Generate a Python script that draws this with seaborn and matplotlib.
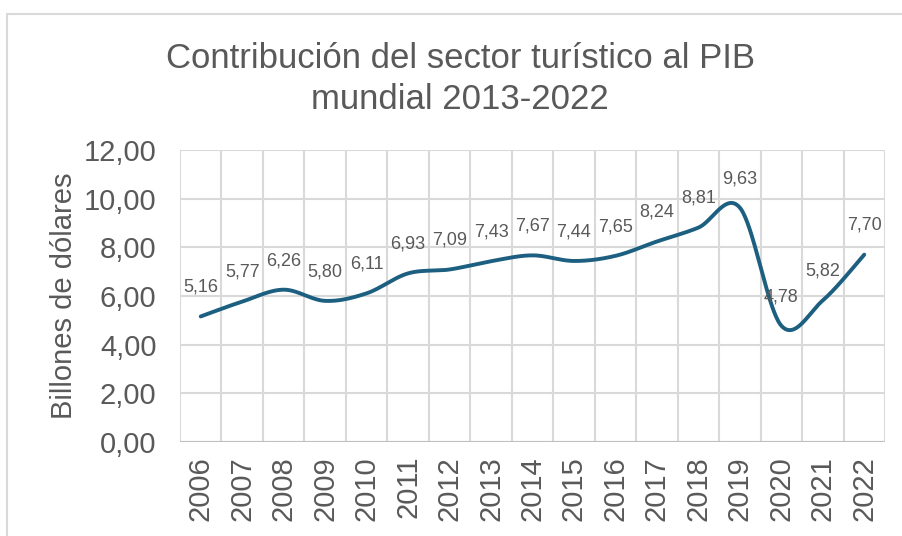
import numpy as np
import pandas as pd
import matplotlib
matplotlib.use("Agg")
import matplotlib.pyplot as plt
from matplotlib.lines import Line2D
import seaborn as sns

years = ["2006", "2007", "2008", "2009", "2010", "2011", "2012", "2013", "2014",
         "2015", "2016", "2017", "2018", "2019", "2020", "2021", "2022"]
values = [5.16, 5.77, 6.26, 5.80, 6.11, 6.93, 7.09, 7.43, 7.67,
          7.44, 7.65, 8.24, 8.81, 9.63, 4.78, 5.82, 7.70]
y_ticks = [0, 2, 4, 6, 8, 10, 12]
title = "Contribución del sector turístico al PIB\nmundial 2013-2022"
ylabel = "Billones de dólares"

LINE = "#1D5F80"
TEXT = "#595959"
GRID = "#D9D9D9"


def fmt(v):
    return f"{v:.2f}".replace(".", ",")


def smooth(xs, ys, n=40):
    # Excel-like smoothed line (Catmull-Rom style Bezier)
    P = np.column_stack([xs, ys]).astype(float)
    out = []
    m = len(P)
    for i in range(m - 1):
        p0 = P[i - 1] if i > 0 else P[i]
        p1 = P[i]
        p2 = P[i + 1]
        p3 = P[i + 2] if i + 2 < m else P[i + 1]
        c1 = p1 + (p2 - p0) / 6.0
        c2 = p2 - (p3 - p1) / 6.0
        t = np.linspace(0, 1, n)[:, None]
        seg = ((1 - t) ** 3) * p1 + 3 * ((1 - t) ** 2) * t * c1 + 3 * (1 - t) * t ** 2 * c2 + t ** 3 * p2
        out.append(seg if i == 0 else seg[1:])
    s = np.vstack(out)
    return s[:, 0], s[:, 1]


sns.set_theme(style="white")
plt.rcParams["font.family"] = ["Liberation Sans", "DejaVu Sans"]

fig = plt.figure(figsize=(9.02, 5.36), dpi=100)
ax = fig.add_axes([180 / 902, 1 - 442 / 536, 705 / 902, 292 / 536])

xpos = np.arange(len(years))
sx, sy = smooth(xpos, values)
curve = pd.DataFrame({"x": sx, "y": sy})
sns.lineplot(data=curve, x="x", y="y", ax=ax, color=LINE, linewidth=2.8,
             sort=False, estimator=None)

for xi, v in zip(xpos, values):
    ax.annotate(fmt(v), (xi, v), xytext=(0, 21), textcoords="offset points",
                ha="center", va="center", fontsize=13, color=TEXT)

ax.set_xlim(-0.5, len(years) - 0.5)
ax.set_ylim(0, 12)
ax.set_yticks(y_ticks)
ax.set_yticklabels([fmt(v) for v in y_ticks], fontsize=21, color=TEXT)
ax.set_xticks(xpos)
ax.set_xticklabels(years, rotation=90, fontsize=21, color=TEXT)
ax.tick_params(axis="y", length=0, pad=17)
ax.tick_params(axis="x", length=0, pad=10)
ax.set_xlabel("")
ax.set_ylabel(ylabel, fontsize=21, color=TEXT, labelpad=4)

ax.set_xticks(np.arange(-0.5, len(years)), minor=True)
ax.grid(False)
ax.grid(True, which="minor", axis="x", color=GRID, linewidth=1.5)
ax.grid(True, which="major", axis="y", color=GRID, linewidth=1.5)
ax.tick_params(which="minor", length=0)
for side in ["top", "right", "bottom", "left"]:
    ax.spines[side].set_visible(False)
ax.axhline(0, color="#BFBFBF", linewidth=1.5, zorder=1)

fig.text(460 / 902, 1 - 79 / 536, title, ha="center", va="center", fontsize=25,
         color=TEXT, linespacing=1.3)

fig.add_artist(Line2D([7 / 902, 7 / 902], [0, 1 - 14 / 536], color=GRID, linewidth=1.5))
fig.add_artist(Line2D([7 / 902, 1], [1 - 14 / 536, 1 - 14 / 536], color=GRID, linewidth=1.5))

fig.savefig("out.png", dpi=100, facecolor="white")
